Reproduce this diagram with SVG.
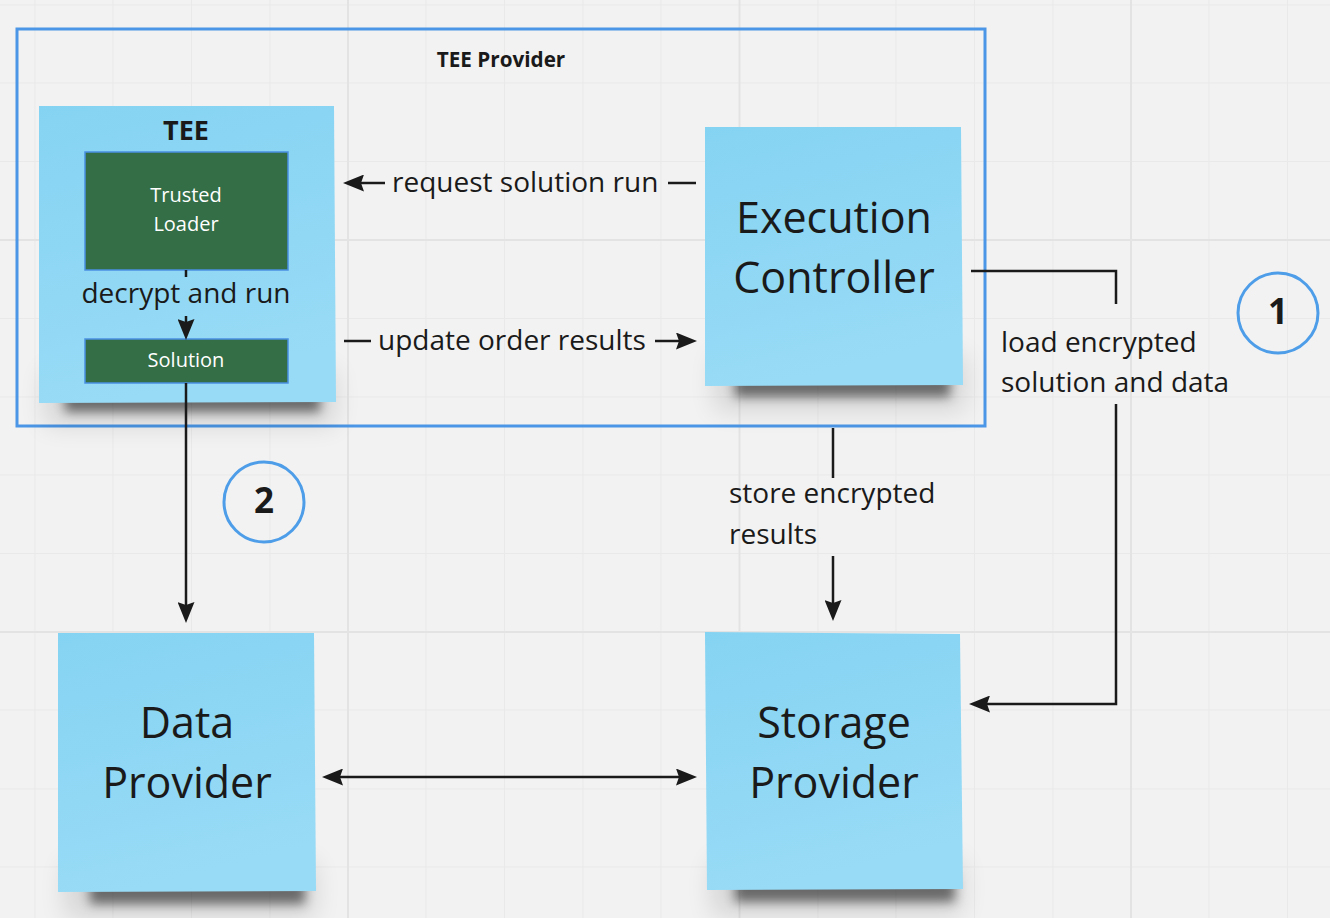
<svg xmlns="http://www.w3.org/2000/svg" width="1330" height="918" viewBox="0 0 1330 918">
  <defs>
    <linearGradient id="sticky" x1="0" y1="0" x2="0.25" y2="1">
      <stop offset="0" stop-color="#85d3f2"/>
      <stop offset="1" stop-color="#98dbf6"/>
    </linearGradient>
    <filter id="blurS" x="-20%" y="-100%" width="140%" height="300%">
      <feGaussianBlur stdDeviation="5.5"/>
    </filter>
    <filter id="blurL" x="-30%" y="-200%" width="160%" height="500%">
      <feGaussianBlur stdDeviation="13"/>
    </filter>
    <marker id="arrow" viewBox="0 0 21 17" refX="10" refY="8.5" markerWidth="21" markerHeight="17" markerUnits="userSpaceOnUse" orient="auto-start-reverse">
      <path d="M0,0 L21,8.5 L0,17 L3,8.5 Z" fill="#1a1a1a"/>
    </marker>
    <style>
      .minor { stroke: #e9e9e9; stroke-width: 1; fill: none; }
      .major { stroke: #e3e3e3; stroke-width: 2; fill: none; }
      .sticky { fill: url(#sticky); }
      .shadowS { fill: #000; opacity: 0.5; filter: url(#blurS); }
      .shadowL { fill: #000; opacity: 0.12; filter: url(#blurL); }
      .frame { fill: none; stroke: #4b96e6; stroke-width: 3; }
      .inner { fill: #336e46; stroke: #4a90e2; stroke-width: 1.5; }
      .badge { fill: none; stroke: #4d9de9; stroke-width: 3; }
      .conn { stroke: #1a1a1a; stroke-width: 2.5; fill: none; }
      .t { font-family: "Open Sans", "Noto Sans", sans-serif; fill: #1a1a1a; }
      .big { font-size: 43px; text-anchor: middle; }
      .lbl { font-size: 28px; }
      .w { fill: #ffffff; font-size: 20px; text-anchor: middle; }
      .b { font-weight: bold; text-anchor: middle; }
    </style>
  </defs>

  <!-- background grid -->
  <rect x="0" y="0" width="1330" height="918" fill="#f2f2f2"/>
  <path class="minor" d="M35,0V918 M113,0V918 M191.5,0V918 M270,0V918 M426,0V918 M504.5,0V918 M583,0V918 M661,0V918 M818,0V918 M896,0V918 M974.5,0V918 M1053,0V918 M1209,0V918 M1287.5,0V918 M0,5H1330 M0,83H1330 M0,161.5H1330 M0,318.5H1330 M0,397H1330 M0,475H1330 M0,553.5H1330 M0,710H1330 M0,789H1330 M0,867H1330"/>
  <path class="major" d="M348,0V918 M739.5,0V918 M1131,0V918 M0,240H1330 M0,632H1330"/>

  <!-- TEE Provider frame -->
  <g id="tee-provider">
    <rect class="frame" x="17" y="29" width="968" height="397"/>
    <text class="t b" x="501" y="67" font-size="20.7">TEE Provider</text>
  </g>

  <!-- TEE sticky -->
  <g id="tee">
    <rect class="shadowL" x="45" y="370" width="290" height="55"/>
    <rect class="shadowS" x="65" y="390" width="255" height="22"/>
    <polygon class="sticky" points="39,106 334,106 336,402 39,403"/>
    <text class="t b" x="186" y="140" font-size="27">TEE</text>
  </g>

  <g id="trusted-loader">
    <rect class="inner" x="85" y="152" width="203" height="118"/>
    <text class="t w" x="186" y="202">Trusted</text>
    <text class="t w" x="186" y="231">Loader</text>
  </g>

  <g id="solution">
    <rect class="inner" x="85" y="339" width="203" height="44"/>
    <text class="t w" x="186" y="367">Solution</text>
  </g>

  <!-- Execution Controller -->
  <g id="execution-controller">
    <rect class="shadowL" x="715" y="355" width="250" height="55"/>
    <rect class="shadowS" x="735" y="373" width="215" height="24"/>
    <polygon class="sticky" points="705,127 961,127 963,385 705,386"/>
    <text class="t big" x="834" y="233">Execution</text>
    <text class="t big" x="834" y="293">Controller</text>
  </g>

  <!-- Data Provider -->
  <g id="data-provider">
    <rect class="shadowL" x="65" y="862" width="250" height="55"/>
    <rect class="shadowS" x="90" y="880" width="215" height="24"/>
    <polygon class="sticky" points="58,633 314,633 316,891 58,892"/>
    <text class="t big" x="187" y="738">Data</text>
    <text class="t big" x="187" y="798">Provider</text>
  </g>

  <!-- Storage Provider -->
  <g id="storage-provider">
    <rect class="shadowL" x="712" y="860" width="250" height="55"/>
    <rect class="shadowS" x="735" y="878" width="220" height="24"/>
    <polygon class="sticky" points="705,632 960,634 963,889 707,890"/>
    <text class="t big" x="834" y="738">Storage</text>
    <text class="t big" x="834" y="798">Provider</text>
  </g>

  <!-- badges -->
  <g id="badge-1">
    <ellipse class="badge" cx="1278" cy="313" rx="40" ry="40"/>
    <text class="t b" x="1278" y="324" font-size="35">1</text>
  </g>
  <g id="badge-2">
    <ellipse class="badge" cx="264" cy="502" rx="40" ry="40"/>
    <text class="t b" x="264" y="513" font-size="35">2</text>
  </g>

  <!-- connectors -->
  <g id="connectors">
    <!-- decrypt and run -->
    <path class="conn" d="M186,270V277"/>
    <path class="conn" d="M186,316V329" marker-end="url(#arrow)"/>
    <text class="t lbl" x="186" y="303" text-anchor="middle">decrypt and run</text>

    <!-- request solution run -->
    <path class="conn" d="M696,183H668"/>
    <path class="conn" d="M385,183H354" marker-end="url(#arrow)"/>
    <text class="t lbl" x="392" y="192">request solution run</text>

    <!-- update order results -->
    <path class="conn" d="M344,341H371"/>
    <path class="conn" d="M655,341H686" marker-end="url(#arrow)"/>
    <text class="t lbl" x="378" y="350">update order results</text>

    <!-- load encrypted solution and data -->
    <path class="conn" d="M971,271H1116V304"/>
    <path class="conn" d="M1116,404V704H980" marker-end="url(#arrow)"/>
    <text class="t lbl" x="1001" y="352">load encrypted</text>
    <text class="t lbl" x="1001" y="392">solution and data</text>

    <!-- store encrypted results -->
    <path class="conn" d="M833,428V478"/>
    <path class="conn" d="M833,556V610" marker-end="url(#arrow)"/>
    <text class="t lbl" x="729" y="503">store encrypted</text>
    <text class="t lbl" x="729" y="544">results</text>

    <!-- solution to data provider -->
    <path class="conn" d="M186,383V612" marker-end="url(#arrow)"/>

    <!-- data provider <-> storage provider -->
    <path class="conn" d="M333,777H686" marker-start="url(#arrow)" marker-end="url(#arrow)"/>
  </g>
</svg>
